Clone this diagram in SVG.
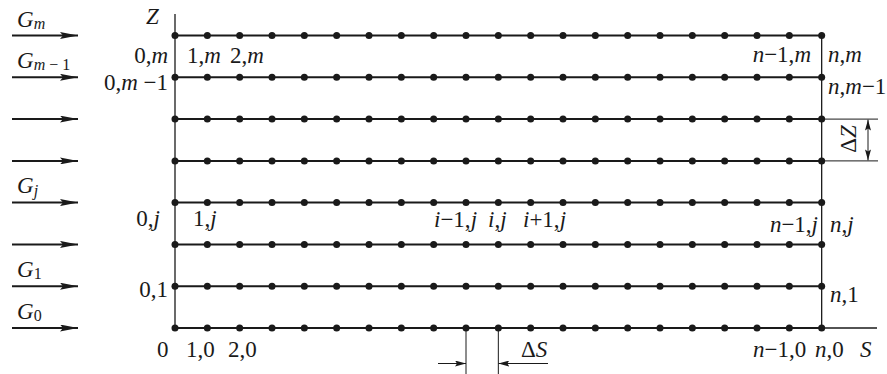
<svg xmlns="http://www.w3.org/2000/svg" xmlns:xlink="http://www.w3.org/1999/xlink" width="887" height="374" viewBox="0 0 887 374">
<style>
.t{font-family:"Liberation Serif","Times New Roman",serif;font-size:23px;fill:#1a1a1a}
.i{font-style:italic}
.sub{font-size:16px}
.row{stroke:#1a1a1a;stroke-width:2;fill:none}
.ax{stroke:#1a1a1a;stroke-width:1.3;fill:none}
.thin{stroke:#1a1a1a;stroke-width:1;fill:none}
.flow{stroke:#1a1a1a;stroke-width:2;fill:none;marker-end:url(#ah)}
.dim{stroke:#1a1a1a;stroke-width:1;fill:none}
.dot{fill:#1a1a1a}
</style>
<defs>
<marker id="ah" viewBox="0 0 18 7" refX="18" refY="3.5" markerWidth="18" markerHeight="7" markerUnits="userSpaceOnUse" orient="auto">
<path d="M0,0 L18,3.5 L0,7 L3,3.5 Z" fill="#1a1a1a"/>
</marker>
<marker id="dh" viewBox="0 0 11 6" refX="11" refY="3" markerWidth="11" markerHeight="6" markerUnits="userSpaceOnUse" orient="auto">
<path d="M0,0 L11,3 L0,6 L2,3 Z" fill="#1a1a1a"/>
</marker>
<g id="dotrow">
<circle class="dot" cx="175" cy="0" r="3.5"/><circle class="dot" cx="207.33" cy="0" r="3.5"/><circle class="dot" cx="239.67" cy="0" r="3.5"/><circle class="dot" cx="272" cy="0" r="3.5"/><circle class="dot" cx="304.33" cy="0" r="3.5"/><circle class="dot" cx="336.67" cy="0" r="3.5"/><circle class="dot" cx="369" cy="0" r="3.5"/><circle class="dot" cx="401.33" cy="0" r="3.5"/><circle class="dot" cx="433.67" cy="0" r="3.5"/><circle class="dot" cx="466" cy="0" r="3.5"/><circle class="dot" cx="498.33" cy="0" r="3.5"/><circle class="dot" cx="530.67" cy="0" r="3.5"/><circle class="dot" cx="563" cy="0" r="3.5"/><circle class="dot" cx="595.33" cy="0" r="3.5"/><circle class="dot" cx="627.67" cy="0" r="3.5"/><circle class="dot" cx="660" cy="0" r="3.5"/><circle class="dot" cx="692.33" cy="0" r="3.5"/><circle class="dot" cx="724.67" cy="0" r="3.5"/><circle class="dot" cx="757" cy="0" r="3.5"/><circle class="dot" cx="789.33" cy="0" r="3.5"/><circle class="dot" cx="821.67" cy="0" r="3.5"/>
</g>
</defs>
<rect width="887" height="374" fill="#ffffff"/>

<g id="connectors">
<line class="ax" x1="175" y1="14" x2="175" y2="328"/>
<line class="ax" x1="821.67" y1="35.5" x2="821.67" y2="328"/>
<line class="ax" x1="821.67" y1="328" x2="877" y2="328"/>
<line class="row" x1="175" y1="35.5" x2="821.67" y2="35.5"/>
<line class="row" x1="175" y1="77.3" x2="821.67" y2="77.3"/>
<line class="row" x1="175" y1="119.1" x2="821.67" y2="119.1"/>
<line class="row" x1="175" y1="160.9" x2="821.67" y2="160.9"/>
<line class="row" x1="175" y1="202.6" x2="821.67" y2="202.6"/>
<line class="row" x1="175" y1="244.4" x2="821.67" y2="244.4"/>
<line class="row" x1="175" y1="286.2" x2="821.67" y2="286.2"/>
<line class="row" x1="175" y1="328" x2="821.67" y2="328"/>
<line class="flow" x1="12" y1="35.5" x2="78" y2="35.5"/>
<line class="flow" x1="12" y1="77.3" x2="78" y2="77.3"/>
<line class="flow" x1="12" y1="119.1" x2="78" y2="119.1"/>
<line class="flow" x1="12" y1="160.9" x2="78" y2="160.9"/>
<line class="flow" x1="12" y1="202.6" x2="78" y2="202.6"/>
<line class="flow" x1="12" y1="244.4" x2="78" y2="244.4"/>
<line class="flow" x1="12" y1="286.2" x2="78" y2="286.2"/>
<line class="flow" x1="12" y1="328" x2="78" y2="328"/>
<line class="thin" x1="822" y1="119.1" x2="878" y2="119.1"/>
<line class="thin" x1="822" y1="160.9" x2="878" y2="160.9"/>
<line class="dim" x1="868" y1="140" x2="868" y2="119.6" marker-end="url(#dh)"/>
<line class="dim" x1="868" y1="140" x2="868" y2="160.4" marker-end="url(#dh)"/>
<line class="thin" x1="466" y1="328" x2="466" y2="374"/>
<line class="thin" x1="498.33" y1="328" x2="498.33" y2="374"/>
<line class="dim" x1="438" y1="363.5" x2="466" y2="363.5" marker-end="url(#dh)"/>
<line class="dim" x1="548" y1="363.5" x2="498.33" y2="363.5" marker-end="url(#dh)"/>
</g>

<g id="nodes">
<use xlink:href="#dotrow" href="#dotrow" y="35.5"/>
<use xlink:href="#dotrow" href="#dotrow" y="77.3"/>
<use xlink:href="#dotrow" href="#dotrow" y="119.1"/>
<use xlink:href="#dotrow" href="#dotrow" y="160.9"/>
<use xlink:href="#dotrow" href="#dotrow" y="202.6"/>
<use xlink:href="#dotrow" href="#dotrow" y="244.4"/>
<use xlink:href="#dotrow" href="#dotrow" y="286.2"/>
<use xlink:href="#dotrow" href="#dotrow" y="328"/>
</g>

<g id="flow-labels">
<text class="t" x="17" y="27"><tspan class="i">G</tspan><tspan class="i sub" dy="2">m</tspan></text>
<text class="t" x="17" y="68"><tspan class="i">G</tspan><tspan class="sub" dy="2"><tspan class="i">m</tspan> − 1</tspan></text>
<text class="t" x="17" y="193"><tspan class="i">G</tspan><tspan class="i sub" dy="3">j</tspan></text>
<text class="t" x="17" y="277"><tspan class="i">G</tspan><tspan class="sub" dy="2">1</tspan></text>
<text class="t" x="17" y="319"><tspan class="i">G</tspan><tspan class="sub" dy="2">0</tspan></text>
</g>

<g id="axis-labels">
<text class="t i" x="146" y="24">Z</text>
<text class="t i" x="860" y="357">S</text>
<text class="t" transform="translate(856,139) rotate(-90)" text-anchor="middle">Δ<tspan class="i">Z</tspan></text>
<text class="t" x="521" y="357">Δ<tspan class="i">S</tspan></text>
</g>

<g id="node-labels">
<text class="t" x="168" y="63" text-anchor="end">0,<tspan class="i">m</tspan></text>
<text class="t" x="187" y="63">1,<tspan class="i">m</tspan></text>
<text class="t" x="230" y="63">2,<tspan class="i">m</tspan></text>
<text class="t" x="168" y="90" text-anchor="end">0,<tspan class="i">m</tspan> −1</text>
<text class="t" x="811" y="62" text-anchor="end"><tspan class="i">n</tspan>−1,<tspan class="i">m</tspan></text>
<text class="t" x="828" y="62"><tspan class="i">n</tspan>,<tspan class="i">m</tspan></text>
<text class="t" x="828" y="94"><tspan class="i">n</tspan>,<tspan class="i">m</tspan>−1</text>
<text class="t" x="160" y="226" text-anchor="end">0,<tspan class="i">j</tspan></text>
<text class="t" x="193" y="226">1,<tspan class="i">j</tspan></text>
<text class="t" x="434" y="227"><tspan class="i">i</tspan>−1,<tspan class="i">j</tspan></text>
<text class="t" x="488" y="227"><tspan class="i">i</tspan>,<tspan class="i">j</tspan></text>
<text class="t" x="523" y="227"><tspan class="i">i</tspan>+1,<tspan class="i">j</tspan></text>
<text class="t" x="818" y="232" text-anchor="end"><tspan class="i">n</tspan>−1,<tspan class="i">j</tspan></text>
<text class="t" x="830" y="232"><tspan class="i">n</tspan>,<tspan class="i">j</tspan></text>
<text class="t" x="168" y="297" text-anchor="end">0,1</text>
<text class="t" x="830" y="302"><tspan class="i">n</tspan>,1</text>
<text class="t" x="157" y="357">0</text>
<text class="t" x="186" y="357">1,0</text>
<text class="t" x="228" y="357">2,0</text>
<text class="t" x="753" y="357"><tspan class="i">n</tspan>−1,0</text>
<text class="t" x="815" y="357"><tspan class="i">n</tspan>,0</text>
</g>
</svg>
